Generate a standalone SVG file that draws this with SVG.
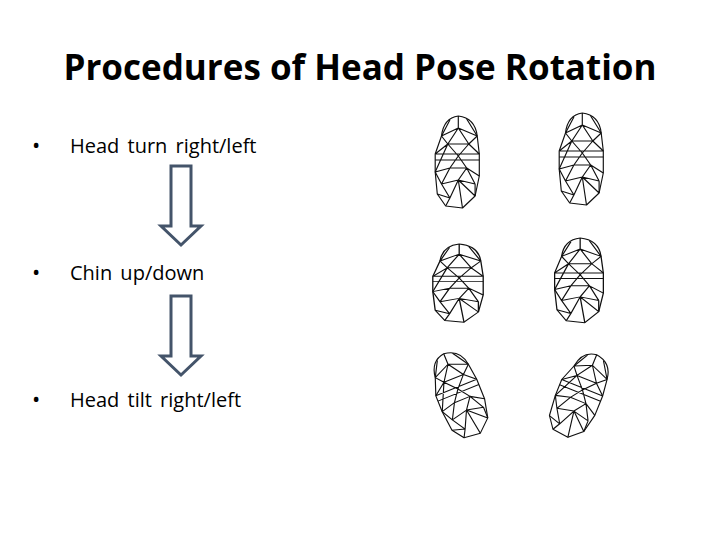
<svg xmlns="http://www.w3.org/2000/svg" xmlns:xlink="http://www.w3.org/1999/xlink" width="720" height="540" viewBox="0 0 720 540">
<style>
.t{font-family:"Open Sans","Liberation Sans",sans-serif;fill:#000}
.b{font-size:20px}
.arr{fill:#fff;stroke:#44546a;stroke-width:3;stroke-linejoin:miter}
.m{fill:none;stroke:#111;stroke-width:1.1;stroke-linejoin:round}
</style>
<defs>
<g id="head">
<path class="m" d="M10,20 Q12,2 26,0 Q42,2 44,20 L46,38 L46,60 L42,80 L30,92 L14,90 L6,78 L4,56 L4,38 Z"/>
<path class="m" d="M10,20 L26,12 L44,20 M26,0 L26,12 M18,4 L10,20 M34,3 L44,20 M26,12 L16,28 L10,20 M26,12 L36,28 L44,20 M16,28 L36,28 M4,38 L16,28 L26,40 L36,28 L46,38 M4,38 L46,38 M26,40 L18,52 L4,56 M26,40 L34,52 L46,60 M18,52 L34,52 L42,68 M18,52 L10,68 L4,56 M10,68 L26,64 L34,52 M26,64 L42,68 L42,80 M10,68 L18,82 L26,64 L30,92 M18,82 L6,78 M18,82 L14,90 M42,80 L26,64 M4,44 L46,44 M16,28 L4,56"/>
</g>
</defs>
<rect width="720" height="540" fill="#fff"/>
<g id="title"><text class="t" x="360" y="80" font-size="35" font-weight="bold" text-anchor="middle">Procedures of Head Pose Rotation</text></g>
<g id="b1"><text class="t" x="32" y="153" font-size="22">•</text><text class="t b" x="70" y="153" word-spacing="3">Head turn right/left</text></g>
<g id="b2"><text class="t" x="32" y="280" font-size="22">•</text><text class="t b" x="70" y="280" word-spacing="3">Chin up/down</text></g>
<g id="b3"><text class="t" x="32" y="407" font-size="22">•</text><text class="t b" x="70" y="407" word-spacing="3">Head tilt right/left</text></g>
<g id="connectors">
<path class="arr" d="M171,166 H191 V226 H201 L181,245 L161,226 H171 Z"/>
<path class="arr" d="M171,296 H191 V356 H201 L181,375 L161,356 H171 Z"/>
</g>
<g id="faces">
<use xlink:href="#head" transform="translate(431,116) scale(1.05,1.0)"/>
<use xlink:href="#head" transform="translate(555,113) scale(1.05,1.0)"/>
<use xlink:href="#head" transform="translate(428,244) scale(1.2,0.85)"/>
<use xlink:href="#head" transform="translate(550,238) scale(1.16,0.92)"/>
<use xlink:href="#head" transform="rotate(-22,459,395) translate(433,351) scale(1.05,0.95)"/>
<use xlink:href="#head" transform="rotate(22,579,395) translate(553,351) scale(1.05,0.95)"/>
</g>
</svg>
